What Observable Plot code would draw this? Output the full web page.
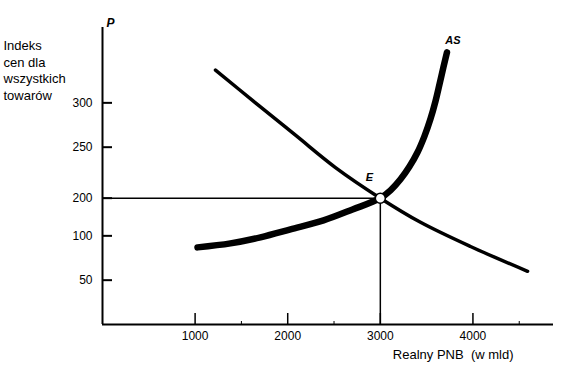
<!DOCTYPE html>
<html><head><meta charset="utf-8">
<script src="https://cdn.jsdelivr.net/npm/d3@7"></script>
<script src="https://cdn.jsdelivr.net/npm/@observablehq/plot@0.6"></script>
<style>body{margin:0;background:#fff} svg{display:block} svg text{white-space:pre}</style>
</head><body><div id="chart"></div>
<script>
// Price axis (hand-drawn, not linear): tick values and their slot along the axis
const priceTicks = [50, 100, 200, 250, 300];
const priceSlots = [1, 2, 2.85, 4, 5];
const quantityTicks = [1000, 2000, 3000, 4000];
const quantityMinor = [1500, 2500, 4500];

// Aggregate supply (AS)
const asQ = [1026, 1382, 1706, 2030, 2387, 2700, 3000, 3110, 3218, 3315, 3402, 3477, 3542, 3596, 3639, 3683, 3720];
const asP = [87, 91.5, 98.3, 117, 141, 170, 200, 207.7, 218.5, 231, 245, 262.5, 282, 302, 321, 341, 357];
// Aggregate demand
const adQ = [1220, 1652, 2084, 2516, 3000, 3434, 3974, 4590];
const adP = [337, 300, 263.5, 230, 200, 136, 88, 60];
// Equilibrium E
const eqQ = 3000, eqP = 200;

const yTitle = "Indeks\ncen dla\nwszystkich\ntowarów";
const xTitle = "Realny PNB  (w mld)";
const pLabel = "P", asLabel = "AS", eLabel = "E";

const slot = d3.scaleLinear().domain([0, ...priceTicks]).range([0, ...priceSlots]);
const asData = asQ.map((q, i) => ({q, p: asP[i]}));
const adData = adQ.map((q, i) => ({q, p: adP[i]}));
const eq = {q: eqQ, p: eqP};
const Y = d => slot(d.p);
const font = "'Liberation Sans', Arial, sans-serif";

const chart = Plot.plot({
  width: 562, height: 370,
  marginLeft: 102, marginRight: 9, marginTop: 27, marginBottom: 46,
  x: {domain: [0, 4870]},
  y: {domain: [0, slot(385)]},
  style: {fontFamily: font, fontSize: "12px", color: "black", background: "white"},
  marks: [
    Plot.ruleX([0], {strokeWidth: 2}),
    Plot.ruleY([0], {strokeWidth: 2}),
    Plot.axisY({ticks: priceSlots, tickFormat: d => String(priceTicks[priceSlots.indexOf(d)]),
      tickSize: -10, tickPadding: 20, strokeWidth: 2, label: null, fontSize: 12}),
    Plot.axisX({ticks: quantityTicks, tickFormat: d => String(d), tickSize: -11, tickPadding: 18,
      strokeWidth: 1.5, label: null, fontSize: 12}),
    Plot.axisX({ticks: quantityMinor, tickFormat: () => "", tickSize: -3, strokeWidth: 1, label: null}),
    Plot.ruleY([eq], {y: Y, x1: 0, x2: "q", strokeWidth: 1.5}),
    Plot.ruleX([eq], {x: "q", y1: 0, y2: Y, strokeWidth: 1.5}),
    Plot.line(adData, {x: "q", y: Y, curve: "catmull-rom", strokeWidth: 3.5, strokeLinecap: "round"}),
    Plot.line(asData, {x: "q", y: Y, curve: "catmull-rom", strokeWidth: 6.5, strokeLinecap: "round"}),
    Plot.dot([eq], {x: "q", y: Y, r: 5, fill: "white", stroke: "black", strokeWidth: 1.5}),
    Plot.text([eq], {x: "q", y: Y, text: () => eLabel, dx: -11, dy: -21, fontWeight: "bold", fontStyle: "italic", fontSize: 11}),
    Plot.text([asData[asData.length - 1]], {x: "q", y: Y, text: () => asLabel, dx: 6, dy: -12, fontWeight: "bold", fontStyle: "italic", fontSize: 11, letterSpacing: "1px"}),
    Plot.text([yTitle], {text: d => d, frameAnchor: "top-left", dx: -99, dy: 11, textAnchor: "start", lineAnchor: "top", lineHeight: 1.27, fontSize: 13}),
    Plot.text([xTitle], {text: d => d, frameAnchor: "bottom-right", dx: -40, dy: 34.5, textAnchor: "end", fontSize: 13}),
    Plot.text([pLabel], {text: d => d, frameAnchor: "top-left", dx: 4, dy: -9, fontWeight: "bold", fontStyle: "italic", fontSize: 12})
  ]
});
document.getElementById("chart").append(chart);
</script>
</body></html>
